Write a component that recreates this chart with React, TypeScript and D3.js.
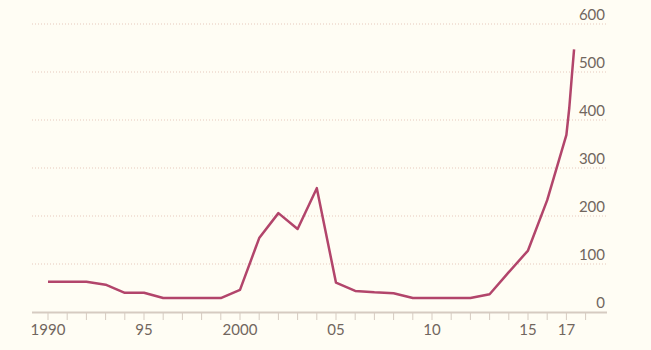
import React from "react";
import * as d3 from "d3";

const years = [1990,1991,1992,1993,1994,1995,1996,1997,1998,1999,2000,2001,2002,2003,2004,2005,2006,2007,2008,2009,2010,2011,2012,2013,2014,2015,2016,2017,2017.15,2017.28,2017.4];
const values = [63,63,63,57,40,40,29,29,29,29,46,154,206,173,258,61,44,41,39,29,29,29,29,37,83,128,233,369,425,490,547];
const yTicks = [0,100,200,300,400,500,600];
const xTickLabels: [number, string][] = [[1990,"1990"],[1995,"95"],[2000,"2000"],[2005,"05"],[2010,"10"],[2015,"15"],[2017,"17"]];

export default function App() {
  const W = 651, H = 350;
  const x = d3.scaleLinear().domain([1990, 2017]).range([48, 566.4]);
  const y = d3.scaleLinear().domain([0, 600]).range([312, 24]);
  const line = d3.line<number>().x((_, i) => x(years[i])).y(d => y(d));
  const allYears = d3.range(1990, 2019);
  const font = "Lato, 'Open Sans', sans-serif";
  return (
    <svg width={W} height={H} style={{ position: "absolute", left: 0, top: 0, background: "#fffdf4" }}>
      <rect width={W} height={H} fill="#fffdf4" />
      {yTicks.filter(t => t > 0).map(t => (
        <line key={t} x1={32} x2={606} y1={y(t)} y2={y(t)} stroke="#e6c9bd" strokeWidth={1} strokeDasharray="1,2" />
      ))}
      {yTicks.map(t => (
        <text key={t} x={605} y={y(t) - 4} textAnchor="end" fontFamily={font} fontSize={15} fill="#71665e">{t}</text>
      ))}
      <line x1={32} x2={607} y1={312.5} y2={312.5} stroke="#d6cbc1" strokeWidth={2} />
      {allYears.map(yr => (
        <line key={yr} x1={x(yr)} x2={x(yr)} y1={313} y2={320} stroke="#d6cbc1" strokeWidth={1} />
      ))}
      {xTickLabels.map(([yr, lab]) => (
        <text key={lab} x={x(yr)} y={335} textAnchor="middle" fontFamily={font} fontSize={15} fill="#71665e">{lab}</text>
      ))}
      <path d={line(values) || ""} fill="none" stroke="#b2456b" strokeWidth={2.5} strokeLinejoin="round" />
    </svg>
  );
}
